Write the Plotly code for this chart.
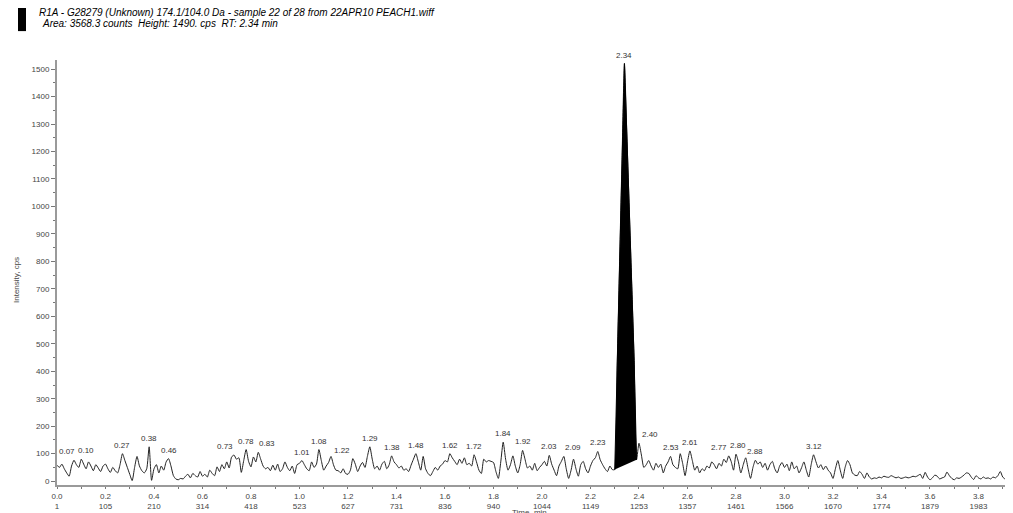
import numpy as np
import plotly.graph_objects as go

# Intensity (cps) sampled every 0.01 min from 0.00 to 3.92 min
intensity = [
    58, 50, 62, 45, 30, 18, 55, 76, 60, 50,
    80, 62, 45, 70, 55, 38, 60, 48, 35, 55,
    62, 45, 32, 50, 38, 30, 60, 100, 75, 50,
    25, 2, 50, 90, 55, 38, 30, 45, 125, 3,
    45, 60, 30, 55, 40, 70, 82, 55, 20, 8,
    5, 10, 8, 18, 25, 12, 28, 20, 15, 35,
    18, 25, 15, 40, 28, 20, 52, 35, 60, 45,
    70, 48, 88, 95, 80, 85, 32, 75, 115, 72,
    52, 88, 70, 105, 80, 55, 45, 50, 38, 58,
    40, 62, 35, 45, 70, 50, 38, 55, 28, 60,
    65, 75, 60, 45, 38, 70, 50, 62, 115, 75,
    40, 55, 68, 90, 60, 40, 38, 30, 45, 28,
    25, 40, 82, 62, 35, 55, 68, 50, 90, 125,
    80, 45, 55, 40, 62, 72, 45, 60, 92, 70,
    60, 48, 55, 40, 45, 35, 58, 80, 100, 70,
    40, 90, 45, 28, 20, 35, 50, 40, 55, 62,
    75, 70, 100, 85, 72, 60, 80, 65, 85, 60,
    65, 55, 96, 70, 40, 28, 80, 70, 75, 72,
    68, 35, 10, 70, 142, 80, 40, 60, 92, 55,
    30, 60, 112, 80, 48, 55, 40, 65, 38, 50,
    60, 72, 55, 94, 62, 40, 20, 55, 72, 90,
    45, 10, 40, 80, 45, 18, 60, 72, 45, 30,
    55, 75, 85, 108, 78, 60, 45, 35, 55, 42,
    42, 420, 800, 1170, 1520, 1260, 990, 720, 440, 78,
    138, 95, 50, 60, 75, 55, 40, 65, 50, 62,
    30, 55, 70, 90, 60, 50, 45, 100, 65, 20,
    70, 110, 75, 40, 55, 30, 45, 38, 55, 48,
    70, 60, 45, 65, 55, 80, 68, 92, 72, 40,
    98, 70, 30, 60, 85, 45, 10, 50, 76, 62,
    70, 50, 65, 40, 60, 72, 45, 30, 55, 68,
    50, 62, 38, 70, 45, 55, 30, 48, 70, 40,
    15, 60, 96, 70, 48, 60, 42, 55, 40, 30,
    10, 45, 75, 40, 10, 50, 75, 60, 30, 22,
    20, 35, 25, 10, 30, 15, 8, 12, 10, 15,
    12, 18, 15, 14, 20, 16, 12, 15, 10, 12,
    15, 12, 14, 18, 16, 20, 25, 10, 32, 15,
    5, 12, 22, 18, 8, 12, 15, 33, 20, 10,
    5, 12, 10, 15, 22, 30, 28, 15, 6, 20,
    12, 8, 15, 10, 12, 8, 15, 12, 20, 35,
    15, 8, 20,
]
time_min = np.round(np.arange(len(intensity)) * 0.01, 2)

# Labelled apex times
peak_labels = ["0.07", "0.10", "0.27", "0.38", "0.46", "0.73", "0.78", "0.83",
               "1.01", "1.08", "1.22", "1.29", "1.38", "1.48", "1.62", "1.72",
               "1.84", "1.92", "2.03", "2.09", "2.23", "2.34", "2.40", "2.53",
               "2.61", "2.77", "2.80", "2.88", "3.12"]
# small horizontal label offsets (px) as in the source software
label_shift = {"0.07": -7, "0.10": 5, "0.73": -9, "0.83": 9, "1.22": -11,
               "2.09": 9, "2.40": 11, "2.77": -10, "2.80": 2}

# Integrated peak window
peak_start, peak_end = 2.30, 2.39

# Axis ticks
x_tickvals = [0.0, 0.2, 0.4, 0.6, 0.8, 1.0, 1.2, 1.4, 1.6, 1.8, 2.0,
              2.2, 2.4, 2.6, 2.8, 3.0, 3.2, 3.4, 3.6, 3.8]
scan_labels = ["1", "105", "210", "314", "418", "523", "627", "731", "836", "940",
               "1044", "1149", "1253", "1357", "1461", "1566", "1670", "1774",
               "1879", "1983"]

title_line1 = "R1A - G28279 (Unknown) 174.1/104.0 Da - sample 22 of 28 from 22APR10 PEACH1.wiff"
title_line2 = "Area: 3568.3 counts  Height: 1490. cps  RT: 2.34 min"

FONT = "Liberation Sans, Arial, sans-serif"

fig = go.Figure()

fig.add_trace(go.Scatter(
    x=time_min, y=intensity, mode="lines",
    line=dict(color="#222222", width=1, shape="spline", smoothing=0.6),
    showlegend=False))

mask = (time_min >= peak_start - 1e-9) & (time_min <= peak_end + 1e-9)
fig.add_trace(go.Scatter(
    x=time_min[mask], y=np.array(intensity)[mask], mode="lines",
    fill="toself", fillcolor="black", line=dict(color="black", width=1),
    hoverinfo="skip", showlegend=False))

for lab in peak_labels:
    t = float(lab)
    idx = int(round(t * 100))
    fig.add_annotation(x=t, y=intensity[idx], text=lab, showarrow=False,
                       yanchor="bottom", yshift=2, xshift=label_shift.get(lab, 0),
                       font=dict(size=8, color="#333333", family=FONT))

ticktext = [f"{v:.1f}<br>{s}" for v, s in zip(x_tickvals, scan_labels)]

fig.update_layout(
    width=1005, height=505,
    margin=dict(l=49, r=3, t=52, b=28),
    paper_bgcolor="white", plot_bgcolor="white",
    font=dict(family=FONT, size=8, color="#444444"),
    xaxis=dict(range=[0, 3.93], tickvals=x_tickvals, ticktext=ticktext,
               showgrid=False, zeroline=False, showline=True,
               linecolor="#9a9a9a", linewidth=2, ticks="outside", ticklen=2,
               tickcolor="#777777",
               minor=dict(dtick=0.1, ticks="outside", ticklen=2, tickcolor="#777777"),
               tickfont=dict(size=8, color="#444444")),
    yaxis=dict(range=[-14, 1533], dtick=100, tick0=0,
               showgrid=False, zeroline=False, showline=True,
               linecolor="#9a9a9a", linewidth=2, ticks="outside", ticklen=4,
               tickcolor="#777777",
               minor=dict(dtick=50, ticks="outside", ticklen=2, tickcolor="#777777"),
               tickfont=dict(size=8, color="#444444")),
)

fig.add_shape(type="rect", xref="paper", yref="paper",
              x0=-0.0409, x1=-0.0325, y0=1.068, y1=1.1224,
              fillcolor="black", line=dict(width=0))
fig.add_annotation(xref="paper", yref="paper", x=-0.021, y=1.1115,
                   xanchor="left", yanchor="middle", showarrow=False,
                   text=f"<i>{title_line1}</i>",
                   font=dict(size=10, color="#000000", family=FONT))
fig.add_annotation(xref="paper", yref="paper", x=-0.018, y=1.087,
                   xanchor="left", yanchor="middle", showarrow=False,
                   text=f"<i>{title_line2}</i>",
                   font=dict(size=10, color="#000000", family=FONT))
fig.add_annotation(xref="paper", yref="paper", x=-0.05, y=0.482,
                   textangle=-90, showarrow=False, text="Intensity, cps",
                   font=dict(size=8, color="#444444", family=FONT))
fig.add_annotation(xref="paper", yref="paper", x=0.496, y=-0.064,
                   yanchor="middle", showarrow=False, text="Time, min",
                   font=dict(size=8, color="#444444", family=FONT))

fig.write_html("out.html")
